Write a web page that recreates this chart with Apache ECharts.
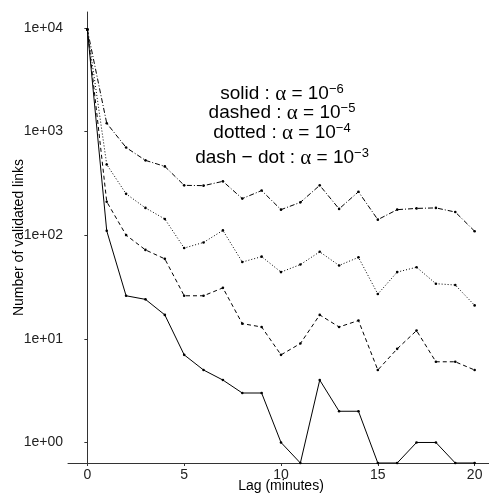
<!DOCTYPE html>
<html><head><meta charset="utf-8">
<script src="https://cdn.jsdelivr.net/npm/echarts@6/dist/echarts.min.js"></script>
<style>html,body{margin:0;padding:0;background:#fff}#c{width:489px;height:495px}</style>
</head><body><div id="c"></div>
<script>
// lag in minutes
const lags = [0,1,2,3,4,5,6,7,8,9,10,11,12,13,14,15,16,17,18,19,20];
// number of validated links per significance level
const solid   = [9600,110,26,24,17,7,5,4,3,3,1,0,4,2,2,0,0,1,1,0,0];          // alpha = 1e-6
const dashed  = [9600,210,100,72,59,26,26,31,14,13,7,9,17,13,15,5,8,12,6,6,5];  // alpha = 1e-5
const dotted  = [9600,480,250,183,143,75,85,111,55,62,44,52,69,51,61,27,44,49,34,33,21]; // alpha = 1e-4
const dashDot = [9600,1200,700,526,460,302,300,330,225,269,176,207,302,179,262,141,176,181,183,167,109]; // alpha = 1e-3
const xTicks = [0,5,10,15,20];
const yTicks = [1,10,100,1000,10000];
const yTickLabels = ['1e+00','1e+01','1e+02','1e+03','1e+04'];

const Y_MIN = Math.pow(10,-0.198), Y_MAX = Math.pow(10,4.152);
const FONT = '"Liberation Sans", Arial, Helvetica, sans-serif';

function toPairs(arr){ return arr.map((v,i)=>[lags[i], v>0 ? v : Y_MIN]); }
function mk(name, arr, type){
  return {name, type:'line', data:toPairs(arr), symbol:'circle', symbolSize:2.6,
    showSymbol:true, clip:true, silent:true, animation:false,
    itemStyle:{color:'#000'},
    lineStyle:{color:'#000', width:1, type:type}};
}
const chart = echarts.init(document.getElementById('c'), null, {renderer:'canvas'});
const rich = {
  t:{fontFamily:FONT, fontSize:19, color:'#000', lineHeight:22},
  a:{fontFamily:'"Liberation Serif", "DejaVu Serif", serif', fontSize:21, color:'#000', lineHeight:22},
  s:{fontFamily:FONT, fontSize:13, color:'#000', lineHeight:13, verticalAlign:'top'}
};
function ann(label, sup, y){
  return {type:'text', x:282, y:y, silent:true,
    style:{text:'{t|'+label+' : }{a|α}{t| = 10}{s|−'+sup+'}', rich:rich,
      align:'center', verticalAlign:'middle', font:'19px '+FONT}};
}
chart.setOption({
  backgroundColor:'#fff',
  animation:false,
  grid:{left:68, right:-5, top:12, bottom:32, containLabel:false, outerBoundsMode:'none'},
  xAxis:{type:'value', min:-1, max:21,
    name:'Lag (minutes)', nameLocation:'middle', nameGap:16, nameMoveOverlap:false,
    nameTextStyle:{fontFamily:FONT, fontSize:14, color:'#000'},
    axisLine:{show:true, onZero:false, lineStyle:{color:'#333', width:1}},
    axisTick:{show:true, inside:false, length:3, customValues:xTicks, lineStyle:{color:'#333'}},
    axisLabel:{show:true, customValues:xTicks, fontFamily:FONT, fontSize:14, color:'#222', margin:5},
    splitLine:{show:false}},
  yAxis:{type:'log', logBase:10, min:Y_MIN, max:Y_MAX,
    name:'Number of validated links', nameLocation:'middle', nameGap:42, nameMoveOverlap:false,
    nameTextStyle:{fontFamily:FONT, fontSize:14, color:'#000'},
    axisLine:{show:true, lineStyle:{color:'#333', width:1}},
    axisTick:{show:true, inside:false, length:3, customValues:yTicks, lineStyle:{color:'#333'}},
    axisLabel:{show:true, customValues:yTicks, fontFamily:FONT, fontSize:14, color:'#222', margin:5,
      formatter:function(v){ const i = yTicks.findIndex(t=>Math.abs(Math.log10(t)-Math.log10(v))<1e-6); return i>=0 ? yTickLabels[i] : ''; }},
    splitLine:{show:false}},
  series:[
    mk('solid', solid, 'solid'),
    mk('dashed', dashed, [4,3]),
    mk('dotted', dotted, [1,2]),
    mk('dash-dot', dashDot, [5,2,1,2])
  ],
  graphic:[
    ann('solid','6',94),
    ann('dashed','5',113),
    ann('dotted','4',133),
    ann('dash − dot','3',158)
  ]
});
</script></body></html>
